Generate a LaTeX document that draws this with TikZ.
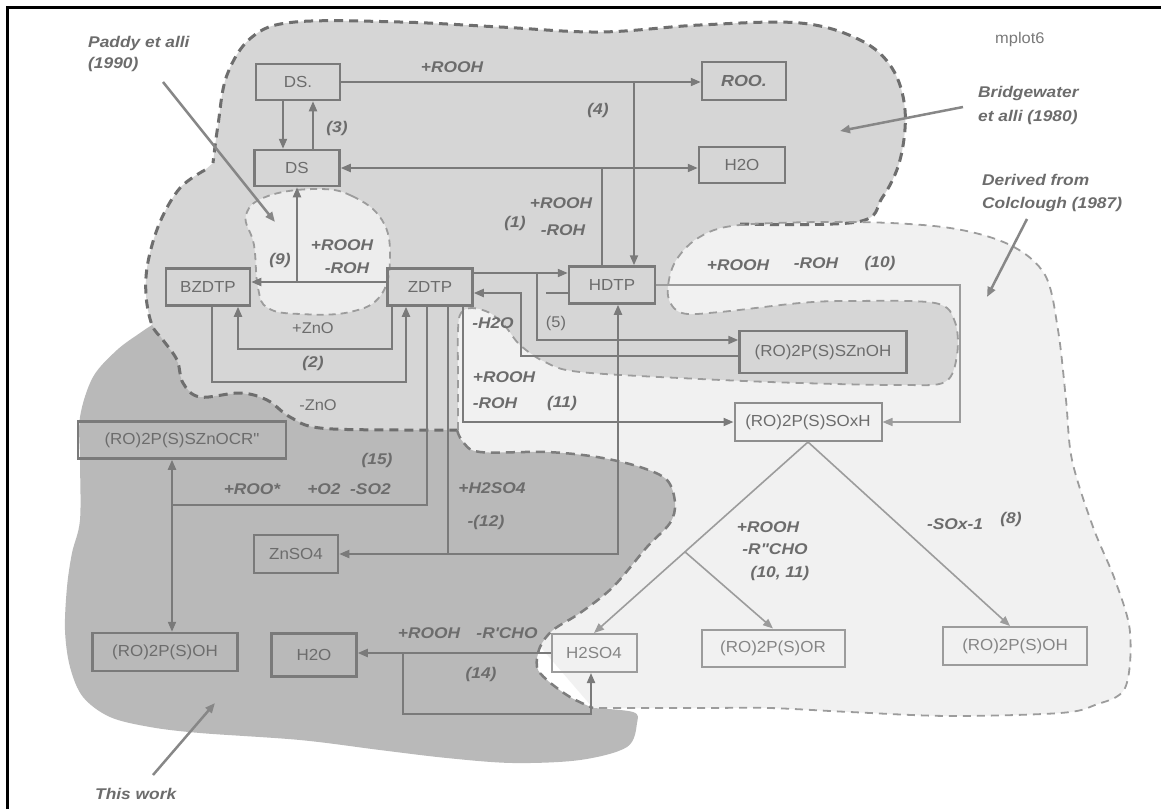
\documentclass[tikz,border=0pt]{standalone}
\usepackage{fontspec}
\setmainfont{Liberation Sans}
\newfontfamily\lblfont[FakeStretch=1.12]{Liberation Sans}
\newfontfamily\boxfont[FakeStretch=1.06]{Liberation Sans}
\usetikzlibrary{arrows.meta,calc}
\definecolor{linegray}{HTML}{7A7A7A}
\definecolor{txtgray}{HTML}{6C6C6C}
\definecolor{lightline}{HTML}{9C9C9C}
\definecolor{bwfill}{HTML}{D6D6D6}
\definecolor{clfill}{HTML}{F1F1F1}
\definecolor{twfill}{HTML}{B9B9B9}
\definecolor{pdfill}{HTML}{EDEDED}
\definecolor{dashgray}{HTML}{6E6E6E}
\begin{document}
\begin{tikzpicture}[x=1pt,y=-1pt,
  cbox/.style={draw=linegray,line width=2.5pt,inner sep=0pt,text=txtgray,font=\boxfont\fontsize{16}{19}\selectfont},
  mbox/.style={cbox,draw=linegray!85,line width=2pt},
  lbox/.style={cbox,draw=lightline,line width=2pt,text=lightline!85!black},
  lbl/.style={inner sep=0pt,text=txtgray,font=\lblfont\bfseries\itshape\fontsize{15.5}{18}\selectfont},
  plainlbl/.style={inner sep=0pt,text=txtgray,font=\boxfont\fontsize{15.5}{18}\selectfont},
  conn/.style={draw=linegray,line width=2pt},
  lconn/.style={draw=lightline,line width=1.6pt},
  anno/.style={draw=linegray!90,line width=2.5pt},
  arr/.style={-{Triangle[length=10pt,width=8pt]}},
  darr/.style={{Triangle[length=10pt,width=8pt]}-{Triangle[length=10pt,width=8pt]}},
  bwdash/.style={draw=dashgray,line width=3pt,dash pattern=on 9pt off 6pt},
  cldash/.style={draw=lightline,line width=1.8pt,dash pattern=on 8pt off 6pt},
  twdash/.style={draw=dashgray!90,line width=2.5pt,dash pattern=on 9pt off 6pt},
  pddash/.style={draw=lightline,line width=1.8pt,dash pattern=on 7pt off 5pt}
]
\useasboundingbox (0,0) rectangle (1161,809);
\fill[white] (0,0) rectangle (1161,809);

% ---------- regions ----------
% Bridgewater
\fill[bwfill] plot[smooth,tension=0.6] coordinates {(740,224) (857,222) (882,198) (900,160) (905,110) (892,68) (860,40) (800,23) (700,25) (600,32) (500,27) (400,22) (295,22) (252,37) (227,75) (218,125) (213,163)}
 -- plot[smooth,tension=0.6] coordinates {(205,170) (180,188) (160,222) (148,262) (146,295) (152,325) (163,340) (177,360) (183,383) (200,397) (240,393) (267,400) (290,417) (320,428) (400,430) (457,430)}
 -- (520,420) -- (620,400) -- (965,400) -- (965,290) -- (880,240) -- cycle;
% Colclough
\fill[clfill] plot[smooth,tension=0.55] coordinates {(458,430) (458,380) (458,330) (461,313) (472,308) (490,313) (505,326) (520,345) (545,362) (580,372) (700,379) (800,383) (900,385) (945,382) (957,355) (955,322) (935,303) (850,301) (800,303) (720,312) (682,313) (668,296) (674,264) (698,238) (740,225) (857,222) (950,228) (1010,245) (1045,275) (1058,330) (1066,400) (1072,460) (1093,527) (1115,580) (1130,632) (1125,688) (1095,705) (1060,713) (950,716) (850,712) (770,708) (700,708) (593,708)} -- (500,600) -- (470,460) -- cycle;
% This work
\fill[twfill] plot[smooth,tension=0.55] coordinates {(152,325) (163,340) (177,360) (183,383) (200,397) (240,393) (267,400) (290,417) (320,428) (400,430) (457,430)}
 -- plot[smooth,tension=0.55] coordinates {(457,430) (463,442) (480,452) (547,452) (597,457) (640,467) (667,480) (675,503) (670,523) (647,547) (613,587) (580,613) (553,630) (540,647) (537,667) (547,680) (570,697) (593,708)}
 -- plot[smooth,tension=0.55] coordinates {(593,708) (633,712) (637,723) (627,747) (580,760) (513,763) (447,758) (380,750) (300,740) (200,733) (150,727) (110,717) (83,697) (70,667) (65,630) (67,587) (72,553) (80,520) (80,460) (80,417) (93,377) (117,350) (140,333) (152,325)} -- cycle;
% borders
\draw[bwdash] plot[smooth,tension=0.6] coordinates {(740,224) (857,222) (882,198) (900,160) (905,110) (892,68) (860,40) (800,23) (700,25) (600,32) (500,27) (400,22) (295,22) (252,37) (227,75) (218,125) (213,163)};
\draw[bwdash] plot[smooth,tension=0.6] coordinates {(205,170) (180,188) (160,222) (148,262) (146,295) (152,325) (163,340) (177,360) (183,383) (200,397) (240,393) (267,400) (290,417) (320,428) (400,430) (457,430)};
\draw[cldash] plot[smooth,tension=0.55] coordinates {(458,430) (458,380) (458,330) (461,313) (472,308) (490,313) (505,326) (520,345) (545,362) (580,372) (700,379) (800,383) (900,385) (945,382) (957,355) (955,322) (935,303) (850,301) (800,303) (720,312) (682,313) (668,296) (674,264) (698,238) (740,225) (857,222) (950,228) (1010,245) (1045,275) (1058,330) (1066,400) (1072,460) (1093,527) (1115,580) (1130,632) (1125,688) (1095,705) (1060,713) (950,716) (850,712) (770,708) (700,708) (593,708)};
\draw[twdash] plot[smooth,tension=0.55] coordinates {(457,430) (463,442) (480,452) (547,452) (597,457) (640,467) (667,480) (675,503) (670,523) (647,547) (613,587) (580,613) (553,630) (540,647) (537,667) (547,680) (570,697) (593,708)};
% Paddy
\filldraw[fill=pdfill,pddash] plot[smooth cycle,tension=0.7] coordinates {(317,189) (352,196) (382,220) (390,257) (381,295) (350,312) (300,314) (268,308) (258,288) (254,245) (246,215) (268,196)};

% frame
\draw[line width=3pt,black] (7,809) -- (7,7) -- (1161,7);

% ---------- boxes ----------
\node[cbox,minimum width=84pt,minimum height=36pt] (ds1) at (298,82) {DS.};
\node[cbox,minimum width=85pt,minimum height=36pt] (ds2) at (297,168) {DS};
\node[cbox,minimum width=84pt,minimum height=38pt] (roo) at (744,81) {\lblfont\bfseries\itshape ROO.};
\node[cbox,minimum width=86pt,minimum height=36pt] (h2oa) at (742,165) {H2O};
\node[cbox,minimum width=84pt,minimum height=37pt] (bzdtp) at (208,287) {BZDTP};
\node[cbox,minimum width=85pt,minimum height=37pt] (zdtp) at (430,287) {ZDTP};
\node[cbox,minimum width=86pt,minimum height=37pt] (hdtp) at (612,285) {HDTP};
\node[cbox,minimum width=167pt,minimum height=42pt] (znoh) at (823,352) {(RO)2P(S)SZnOH};
\node[mbox,minimum width=147pt,minimum height=38pt] (soxh) at (808,422) {(RO)2P(S)SOxH};
\node[cbox,minimum width=208pt,minimum height=37pt] (zocr) at (182,440) {(RO)2P(S)SZnOCR"};
\node[cbox,minimum width=84pt,minimum height=38pt] (znso4) at (296,554) {ZnSO4};
\node[cbox,minimum width=145pt,minimum height=38pt] (roh1) at (165,652) {(RO)2P(S)OH};
\node[cbox,minimum width=85pt,minimum height=43pt] (h2ob) at (314,655) {H2O};
\node[lbox,minimum width=85pt,minimum height=38pt] (h2so4) at (594,653) {H2SO4};
\node[lbox,minimum width=143pt,minimum height=37pt] (ror) at (773,648) {(RO)2P(S)OR};
\node[lbox,minimum width=144pt,minimum height=38pt] (roh2) at (1015,646) {(RO)2P(S)OH};

% ---------- connectors ----------
\draw[conn,arr] (ds1.east) -- (ds1.east -| roo.west);
\coordinate (j4) at (634,82);
\draw[conn,arr] (j4) -- (j4 |- hdtp.north);
\draw[conn,arr] ([xshift=-15pt]ds1.south) -- ([xshift=-15pt]ds1.south |- ds2.north);
\draw[conn,arr] ([xshift=16pt]ds2.north) -- ([xshift=16pt]ds2.north |- ds1.south);
\draw[conn,darr] (ds2.east) -- (ds2.east -| h2oa.west);
\draw[conn] ([xshift=-10pt]hdtp.north) -- ([xshift=-10pt]hdtp.north |- ds2.east);
% (9)
\draw[conn,arr] ([yshift=5pt]zdtp.west) -- ([yshift=5pt]zdtp.west -| bzdtp.east);
\coordinate (j9) at (297,282);
\draw[conn,arr] (j9) -- (j9 |- ds2.south);
% (2)
\draw[conn,arr] ([xshift=-38pt]zdtp.south) -- ++(0,42) -| ([xshift=30pt]bzdtp.south);
\draw[conn,arr] ([xshift=4pt]bzdtp.south) -- ++(0,75) -| ([xshift=-24pt]zdtp.south);
% ZDTP -> HDTP and (5)
\draw[conn,arr] ([yshift=14pt]zdtp.east) -- ([yshift=14pt]zdtp.east -| hdtp.west);
\coordinate (j5) at (537,273);
\draw[conn,arr] (j5) |- ([yshift=12pt]znoh.west);
\draw[conn] ([yshift=-8pt]hdtp.west) -- ++(-22,0);
% -H2O
\draw[conn,arr] ([yshift=-4pt]znoh.west) -| ([xshift=47pt,yshift=-6pt]zdtp.east) -- ([yshift=-6pt]zdtp.east);
% (10)
\draw[lconn,arr] (hdtp.east) -- ++(304,0) |- (soxh.east);
% (11)
\draw[conn,arr] ([xshift=33pt]zdtp.south) |- (soxh.west);
% (12)
\draw[conn,arr] ([xshift=18pt]zdtp.south) |- (znso4.east);
\coordinate (j12) at ([xshift=18pt]zdtp.south |- znso4.east);
\draw[conn,arr] (j12) -| ([xshift=6pt]hdtp.south);
% (15)
\coordinate (j15) at (172,505);
\draw[conn] ([xshift=-3pt]zdtp.south) |- (j15);
\draw[conn,arr] (j15) -- (j15 |- zocr.south);
\draw[conn,arr] (j15) -- (j15 |- roh1.north);
% from SOxH
\draw[lconn,arr] (soxh.south) -- ([xshift=-5pt]roh2.north);
\draw[lconn,arr] (soxh.south) -- (h2so4.north);
\coordinate (j10) at ($(soxh.south)!0.575!(h2so4.north)$);
\draw[lconn,arr] (j10) -- (ror.north);
% (14)
\draw[conn,arr] (h2so4.west) -- (h2so4.west -| h2ob.east);
\coordinate (j14) at (403,653);
\draw[conn,arr] (j14) -- ++(0,61) -| ([xshift=-3pt]h2so4.south);

% ---------- annotation arrows ----------
\node[lbl,anchor=west] (paddy1) at (88,43) {Paddy et alli};
\node[lbl,anchor=west] (paddy2) at (88,64) {(1990)};
\node[lbl,anchor=west] (bw1) at (978,93) {Bridgewater};
\node[lbl,anchor=west] (bw2) at (978,117) {et alli (1980)};
\node[lbl,anchor=west] (cl1) at (982,180) {Derived from};
\node[lbl,anchor=west] (cl2) at (982,204) {Colclough (1987)};
\node[lbl,anchor=west] (tw) at (95,794) {This work};
\node[plainlbl,anchor=west,text=linegray] (mp) at (995,39) {mplot6};
\draw[anno,arr] (163,82) -- (275,222);
\draw[anno,arr] (963,107) -- (840,131);
\draw[anno,arr] (1027,219) -- (987,297);
\draw[anno,arr] (153,775) -- (215,703);

% ---------- labels ----------
\node[lbl] (l1) at (452,67) {+ROOH};
\node[lbl] (l2) at (598,110) {(4)};
\node[lbl] (l3) at (337,128) {(3)};
\node[lbl] (l4) at (561,203) {+ROOH};
\node[lbl] (l5) at (563,230) {-ROH};
\node[lbl] (l6) at (515,223) {(1)};
\node[lbl] (l7) at (342,245) {+ROOH};
\node[lbl] (l8) at (347,268) {-ROH};
\node[lbl] (l9) at (280,260) {(9)};
\node[plainlbl] (l10) at (313,328) {+ZnO};
\node[lbl] (l11) at (313,363) {(2)};
\node[plainlbl] (l12) at (318,405) {-ZnO};
\node[lbl] (l13) at (493,323) {-H2O};
\node[plainlbl] (l14) at (556,323) {(5)};
\node[lbl] (l15) at (738,265) {+ROOH};
\node[lbl] (l16) at (816,263) {-ROH};
\node[lbl] (l17) at (880,263) {(10)};
\node[lbl] (l18) at (504,377) {+ROOH};
\node[lbl] (l19) at (495,403) {-ROH};
\node[lbl] (l20) at (562,403) {(11)};
\node[lbl] (l21) at (377,460) {(15)};
\node[lbl] (l22) at (252,489) {+ROO*};
\node[lbl] (l23) at (349,489) {+O2\ \ -SO2};
\node[lbl] (l24) at (492,488) {+H2SO4};
\node[lbl] (l25) at (486,522) {-(12)};
\node[lbl] (l26) at (768,527) {+ROOH};
\node[lbl] (l27) at (775,549) {-R"CHO};
\node[lbl] (l28) at (780,573) {(10, 11)};
\node[lbl] (l29) at (955,524) {-SOx-1};
\node[lbl] (l30) at (1011,519) {(8)};
\node[lbl] (l31) at (429,633) {+ROOH};
\node[lbl] (l32) at (507,633) {-R'CHO};
\node[lbl] (l33) at (481,674) {(14)};
\end{tikzpicture}
\end{document}
